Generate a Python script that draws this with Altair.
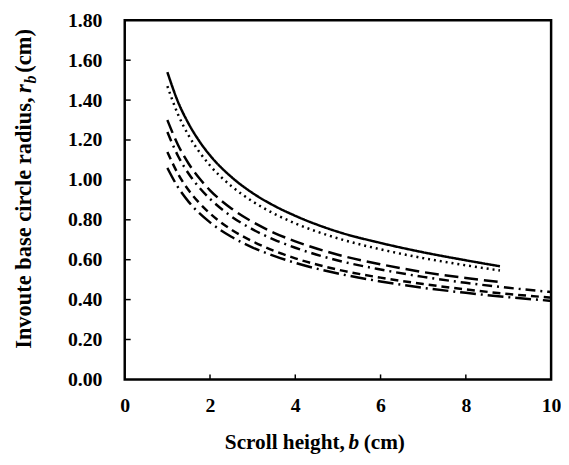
import altair as alt
import pandas as pd

# ---- data ----
b_short = [1, 1.25, 1.5, 1.75, 2, 2.5, 3, 3.5, 4, 5, 6, 7, 8, 8.8]
b_long = [1, 1.25, 1.5, 1.75, 2, 2.5, 3, 3.5, 4, 5, 6, 7, 8, 9, 10]

r_A = [1.540, 1.391, 1.281, 1.194, 1.123, 1.015, 0.934, 0.871, 0.820, 0.740, 0.684, 0.637, 0.597, 0.567]
r_B = [1.470, 1.328, 1.222, 1.140, 1.072, 0.969, 0.892, 0.831, 0.782, 0.707, 0.652, 0.608, 0.572, 0.546]
r_C = [1.300, 1.175, 1.081, 1.008, 0.948, 0.857, 0.789, 0.735, 0.692, 0.625, 0.577, 0.538, 0.508, 0.488]
r_D = [1.240, 1.120, 1.031, 0.961, 0.905, 0.817, 0.752, 0.701, 0.660, 0.596, 0.551, 0.514, 0.484, 0.459, 0.438]
r_E = [1.140, 1.030, 0.948, 0.884, 0.832, 0.751, 0.692, 0.645, 0.607, 0.550, 0.510, 0.478, 0.451, 0.428, 0.410]
r_F = [1.060, 0.963, 0.890, 0.833, 0.787, 0.715, 0.661, 0.619, 0.584, 0.531, 0.491, 0.459, 0.434, 0.412, 0.394]

series_names = ["A", "B", "C", "D", "E", "F"]
series_b = [b_short, b_short, b_short, b_long, b_long, b_long]
series_r = [r_A, r_B, r_C, r_D, r_E, r_F]
dashes = [[1, 0], [2, 4], [14, 6], [10, 5, 2, 5], [8, 5], [16, 5, 2, 5]]

x_ticks = [0, 2, 4, 6, 8, 10]
y_ticks = [0.0, 0.2, 0.4, 0.6, 0.8, 1.0, 1.2, 1.4, 1.6, 1.8]
x_inner_ticks = [2, 4, 6, 8]
y_inner_ticks = [0.2, 0.4, 0.6, 0.8, 1.0, 1.2, 1.4, 1.6]

x_title_parts = ["Scroll height,", "b", "(cm)"]
y_title_parts = ["Invoute base circle radius,", "r", "b", "(cm)"]

# ---- build ----
rows = []
for name, bs, rs in zip(series_names, series_b, series_r):
    for bv, rv in zip(bs, rs):
        rows.append({"series": name, "b": bv, "r": rv})
df = pd.DataFrame(rows)

TOTAL_W, H = 559, 363
FONT = "Liberation Serif"
TS = 22.7
XS = 21.5

xs = alt.Scale(domain=[0, 10], nice=False, zero=False)
ys = alt.Scale(domain=[0, 1.8], nice=False, zero=False)

lines = alt.Chart(df).mark_line(color="black", strokeWidth=2.5, interpolate="monotone").encode(
    x=alt.X("b:Q", scale=xs, axis=alt.Axis(values=x_ticks, title=None, format="d", labelFlush=False)),
    y=alt.Y("r:Q", scale=ys, axis=alt.Axis(values=y_ticks, title=None, format=".2f", labelFlush=False)),
    strokeDash=alt.StrokeDash("series:N", scale=alt.Scale(domain=series_names, range=dashes), legend=None),
    detail="series:N",
)

xt = alt.Chart(pd.DataFrame({"t": x_inner_ticks})).mark_rule(color="black", strokeWidth=1.5).encode(
    x=alt.X("t:Q", scale=xs), y=alt.value(H), y2=alt.value(H - 5)
)
yt = alt.Chart(pd.DataFrame({"t": y_inner_ticks})).mark_rule(color="black", strokeWidth=1.5).encode(
    y=alt.Y("t:Q", scale=ys), x=alt.value(0), x2=alt.value(6)
)

def txt(s, x, y, align, style="normal", size=TS, angle=0, baseline="alphabetic"):
    return alt.Chart(pd.DataFrame({"s": [s]})).mark_text(
        font=FONT, fontSize=size, fontWeight="bold", fontStyle=style, align=align,
        baseline=baseline, angle=angle, color="black"
    ).encode(text="s:N", x=alt.value(x), y=alt.value(y))

# x title pieces (plot coords)
TY = 433
xt1 = txt(x_title_parts[0], 222.5, TY, "right", size=XS)
xt2 = txt(x_title_parts[1], 231.5, TY, "center", style="italic", size=XS)
xt3 = txt(x_title_parts[2], 241.5, TY, "left", size=XS)

# y title pieces (rotated)
yx = -95
yt1 = txt(y_title_parts[0], yx, 78, "right", angle=270)
yt2 = txt(y_title_parts[1], yx, 69, "center", style="italic", angle=270)
yt3 = txt(y_title_parts[2], yx + 5, 60, "center", style="italic", size=16, angle=270)
yt4 = txt(y_title_parts[3], yx, 53, "left", angle=270)

chart = alt.layer(lines, xt, yt, xt1, xt2, xt3, yt1, yt2, yt3, yt4).properties(
    width=TOTAL_W, height=H,
    autosize=alt.AutoSizeParams(type="fit-x", contains="padding"),
    padding={"left": 5, "top": 0, "right": 0, "bottom": 0},
).configure_view(stroke="black", strokeWidth=2.5).configure_axis(
    domain=False, ticks=False, grid=False,
    labelFont=FONT, labelFontWeight="bold", labelFontSize=20, labelColor="black",
).configure_axisX(labelPadding=16).configure_axisY(labelPadding=23)

chart.save("out.html", embed_options={"renderer": "svg", "actions": False})
